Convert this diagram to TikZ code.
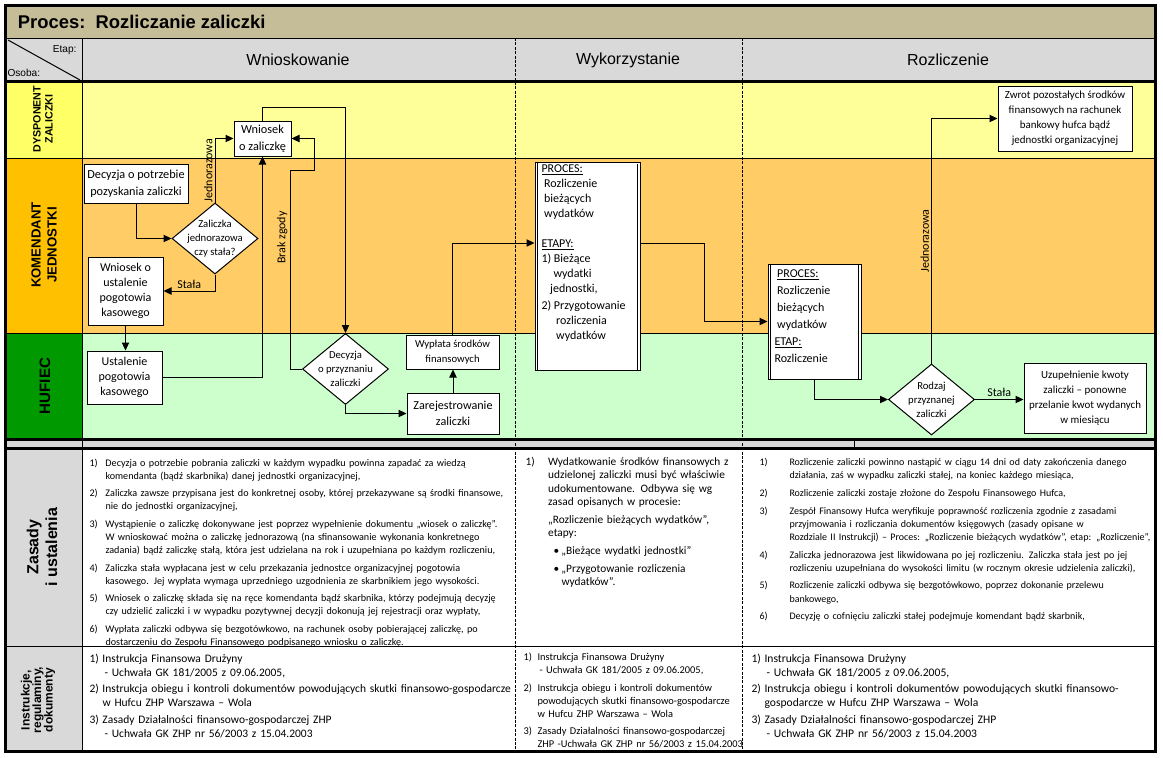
\documentclass[tikz,border=0pt]{standalone}
\usepackage{fontspec}
\setmainfont{Carlito}
\newfontfamily\arialfont{Liberation Sans}
\usetikzlibrary{shapes.geometric,arrows.meta}

\definecolor{titlebg}{RGB}{196,189,151}
\definecolor{headbg}{RGB}{217,217,217}
\definecolor{laneyel}{RGB}{255,255,153}
\definecolor{labyel}{RGB}{255,255,102}
\definecolor{laneora}{RGB}{255,204,102}
\definecolor{labora}{RGB}{255,192,0}
\definecolor{lanegrn}{RGB}{204,255,204}
\definecolor{labgrn}{RGB}{0,153,0}

\newcommand{\fsz}[2]{\fontsize{#1}{#2}\selectfont}
\newcommand{\pkt}[3][9pt]{\par\hangindent=#1\hangafter=1\noindent\makebox[#1][l]{#2}#3\par}

\tikzset{every picture/.style={line width=0.75pt}}
\tikzset{
  flowbox/.style={draw, fill=white, align=center, inner sep=1pt},
  decision/.style={diamond, draw, fill=white, align=center, inner sep=-4pt, aspect=1.2,
    minimum width=64.5pt, minimum height=53.25pt, font=\fsz{8}{10.5}},
  flow/.style={-{Triangle[length=6pt,width=5.5pt]}},
  lbl/.style={font=\fsz{9}{10}, inner sep=1.5pt},
  lanelabel/.style={rotate=90, align=center, font=\arialfont\bfseries},
  sepline/.style={dash pattern=on 2.2pt off 1.1pt},
  txtblock/.style={anchor=north west, align=left, inner sep=0pt},
}

\begin{document}
\begin{tikzpicture}[x=0.75pt,y=0.75pt,yscale=-1,xscale=1]
\useasboundingbox (0,0) rectangle (1163,757);

%Backgrounds
\fill[titlebg] (5,5) rectangle (1155,38);
\fill[headbg] (5,38) rectangle (1155,81);
\fill[laneyel] (82,81) rectangle (1155,158);
\fill[laneora] (82,158) rectangle (1155,333);
\fill[lanegrn] (82,333) rectangle (1155,439);
\fill[labyel] (5,81) rectangle (82,158);
\fill[labora] (5,158) rectangle (82,333);
\fill[labgrn] (5,333) rectangle (82,439);
\fill[headbg] (5,439) rectangle (1155,448);
\fill[headbg] (5,448) rectangle (82,751);

%Grid lines
\draw (5,38) -- (1155,38);
\draw (82,38) -- (82,751);
\draw (5,158) -- (1155,158);
\draw (5,333) -- (1155,333);
\draw (5,646) -- (1155,646);
\draw (854,439) -- (854,448);
\draw (8,40) -- (80,80);
\draw [sepline] (515,38) -- (515,751);
\draw [sepline] (742,38) -- (742,751);
\draw [line width=2.25pt] (5,81) -- (1155,81);
\draw [line width=2.25pt] (5,439) -- (1155,439);
\draw [line width=2.25pt] (5,448) -- (1155,448);
\draw [line width=2.25pt] (5,5) rectangle (1155,751);

% Text Node
\node [anchor=west, font=\arialfont\bfseries\fsz{13.8}{16}] (title) at (13,22) {Proces:\ \ Rozliczanie zaliczki};
\node [font=\arialfont\fsz{12}{14}] (etap1) at (298,60) {Wnioskowanie};
\node [font=\arialfont\fsz{12}{14}] (etap2) at (628,60) {Wykorzystanie};
\node [font=\arialfont\fsz{12}{14}] (etap3) at (948,60) {Rozliczenie};
\node [anchor=east, font=\arialfont\fsz{7.6}{9}, inner sep=0pt] (etaplbl) at (77,50) {Etap:};
\node [anchor=west, font=\arialfont\fsz{7.6}{9}, inner sep=0pt] (osobalbl) at (7,73) {Osoba:};

% Lane labels
\node [lanelabel, font=\arialfont\bfseries\fsz{8}{9}] (ldysp) at (43,119) {DYSPONENT\\ZALICZKI};
\node [lanelabel, font=\arialfont\bfseries\fsz{9.9}{12}] (lkom) at (44,245) {KOMENDANT\\JEDNOSTKI};
\node [lanelabel, font=\arialfont\bfseries\fsz{11.3}{13}] (lhuf) at (45,386) {HUFIEC};
\node [lanelabel, font=\arialfont\bfseries\fsz{12}{14}] (lzas) at (42,547) {Zasady\\i ustalenia};
\node [lanelabel, font=\arialfont\bfseries\fsz{9}{8.6}] (linst) at (38,700) {Instrukcje,\\regulaminy,\\dokumenty};

%Flowchart: Wnioskowanie
\node [flowbox, minimum width=42.75pt, minimum height=26.25pt, font=\fsz{9.2}{13}] (wz) at (262.5,138.5) {Wniosek\\o zaliczkę};
\node [flowbox, minimum width=78pt, minimum height=29.25pt, font=\fsz{9.2}{12.75}] (dec) at (136,183.5) {Decyzja o potrzebie\\pozyskania zaliczki};
\node [decision] (qrodz) at (215,238.5) {Zaliczka\\jednorazowa\\czy stała?};
\node [flowbox, minimum width=56.25pt, minimum height=51pt, font=\fsz{9}{11.25}] (wpog) at (125.5,291) {Wniosek o\\ustalenie\\pogotowia\\kasowego};
\node [flowbox, minimum width=56.25pt, minimum height=39.75pt, font=\fsz{9}{11.25}] (upog) at (124.5,377.5) {Ustalenie\\pogotowia\\kasowego};
\node [decision] (qprz) at (345.5,369) {Decyzja\\o przyznaniu\\zaliczki};
\node [flowbox, minimum width=69.75pt, minimum height=25.5pt, font=\fsz{8}{11}] (wypl) at (452.5,352) {Wypłata środków\\finansowych};
\node [flowbox, minimum width=69pt, minimum height=30.75pt, font=\fsz{9.1}{12.5}] (zarej) at (453,413.5) {Zarejestrowanie\\zaliczki};

%Flowchart: Wykorzystanie
\node [draw, fill=white, minimum width=78.75pt, minimum height=156pt, inner sep=0pt] (proc1) at (587.5,266) {};
\draw ([xshift=2.4pt]proc1.north west) -- ([xshift=2.4pt]proc1.south west);
\draw ([xshift=-2.4pt,yshift=2pt]proc1.north east) -- ([xshift=-2.4pt]proc1.south east);
\node [txtblock, font=\fsz{9}{11.25}] (proc1txt) at (541,164) {\underline{PROCES:}\\
  \hspace*{2pt}Rozliczenie\\ \hspace*{2pt}bieżących\\ \hspace*{2pt}wydatków\\[11.25pt]
  \underline{ETAPY:}\\ 1) Bieżące\\ \hspace*{9pt}wydatki\\ \hspace*{6.5pt}jednostki,\\[2pt]
  2) Przygotowanie\\ \hspace*{11pt}rozliczenia\\ \hspace*{11pt}wydatków};

%Flowchart: Rozliczenie
\node [draw, fill=white, minimum width=69.75pt, minimum height=86.25pt, inner sep=0pt] (proc2) at (814.5,321.5) {};
\draw ([xshift=2.4pt]proc2.north west) -- ([xshift=2.4pt]proc2.south west);
\draw ([xshift=-2.4pt]proc2.north east) -- ([xshift=-2.4pt]proc2.south east);
\node [txtblock, font=\fsz{9}{12.75}] (proc2txt) at (774,269) {\hspace*{2pt}\underline{PROCES:}\\
  \hspace*{2pt}Rozliczenie\\ \hspace*{2pt}bieżących\\ \hspace*{2pt}wydatków\\
  \underline{ETAP:}\\ Rozliczenie};
\node [decision] (qrodz2) at (931.5,399.5) {Rodzaj\\przyznanej\\zaliczki};
\node [flowbox, minimum width=100.5pt, minimum height=48.75pt, font=\fsz{8.2}{11.25}] (zwrot) at (1065,118.5) {Zwrot pozostałych środków\\finansowych na rachunek\\bankowy hufca bądź\\jednostki organizacyjnej};
\node [flowbox, minimum width=91.5pt, minimum height=52.5pt, font=\fsz{8.2}{11.25}] (uzup) at (1085,398) {Uzupełnienie kwoty\\zaliczki -- ponowne\\przelanie kwot wydanych\\w miesiącu};

%Connectors
\coordinate (bz) at (290,170);
\coordinate (m1) at (0,243);
\draw [flow] (dec.south) |- (qrodz.west);
\draw [flow] (qrodz.north) |- node [pos=0.25, rotate=90, anchor=south, lbl] {Jednorazowa} (wz.west);
\draw [flow] (qrodz.south) |- node [pos=0.75, above, lbl] {Stała} (wpog.east);
\draw [flow] (wpog.south) -- (wpog.south |- upog.north);
\draw [flow] (upog.east) -| (wz.south);
\draw [flow] (wz.north) -- ++(0,-13) -| (qprz.north);
\draw [flow] (qprz.west) -| node [pos=0.83, rotate=90, anchor=south, lbl] {Brak zgody} (bz) -- ++(24,0) |- (wz.east);
\draw [flow] (qprz.south) |- (zarej.west);
\draw [flow] (zarej.north) -- (zarej.north |- wypl.south);
\draw [flow] (wypl.north) |- (proc1.west |- m1);
\draw [flow] (proc1.east |- m1) -- ++(64,0) |- (proc2.west);
\draw [flow] (proc2.south) |- (qrodz2.west);
\draw [flow] (qrodz2.north) |- node [pos=0.25, rotate=90, anchor=south, lbl] {Jednorazowa} (zwrot.west);
\draw [flow] (qrodz2.east) -- node [above, lbl] {Stała} (qrodz2.east -| uzup.west);

%Zasady i ustalenia
\node [txtblock, text width=330pt, font=\fsz{7.6}{9.75}] (zasady1) at (89,448) {\setlength{\parskip}{3.5pt}%
\pkt[12pt]{1)}{Decyzja o potrzebie pobrania zaliczki w każdym wypadku powinna zapadać za wiedzą\newline komendanta (bądź skarbnika) danej jednostki organizacyjnej,}
\pkt[12pt]{2)}{Zaliczka zawsze przypisana jest do konkretnej osoby, której przekazywane są środki finansowe,\newline nie do jednostki organizacyjnej,}
\pkt[12pt]{3)}{Wystąpienie o zaliczkę dokonywane jest poprzez wypełnienie dokumentu „wiosek o zaliczkę”.\newline W wnioskować można o zaliczkę jednorazową (na sfinansowanie wykonania konkretnego\newline zadania) bądź zaliczkę stałą, która jest udzielana na rok i uzupełniana po każdym rozliczeniu,}
\pkt[12pt]{4)}{Zaliczka stała wypłacana jest w celu przekazania jednostce organizacyjnej pogotowia\newline kasowego. Jej wypłata wymaga uprzedniego uzgodnienia ze skarbnikiem jego wysokości.}
\pkt[12pt]{5)}{Wniosek o zaliczkę składa się na ręce komendanta bądź skarbnika, którzy podejmują decyzję\newline czy udzielić zaliczki i w wypadku pozytywnej decyzji dokonują jej rejestracji oraz wypłaty,}
\pkt[12pt]{6)}{Wypłata zaliczki odbywa się bezgotówkowo, na rachunek osoby pobierającej zaliczkę, po\newline dostarczeniu do Zespołu Finansowego podpisanego wniosku o zaliczkę.}};

\node [txtblock, text width=170pt, font=\fsz{8.5}{10}] (zasady2) at (525,447) {\setlength{\parskip}{3.4pt}%
\pkt[17pt]{1)}{Wydatkowanie środków finansowych z\newline udzielonej zaliczki musi być właściwie\newline udokumentowane. Odbywa się wg\newline zasad opisanych w procesie:}
{\leftskip=17pt\noindent „Rozliczenie bieżących wydatków”,\newline etapy:\par}
{\leftskip=21pt\hangindent=6pt\hangafter=1\noindent\makebox[6pt][l]{•}„Bieżące wydatki jednostki”\par}
{\leftskip=21pt\hangindent=6pt\hangafter=1\noindent\makebox[6pt][l]{•}„Przygotowanie rozliczenia\newline wydatków”.\par}};

\node [txtblock, text width=320pt, font=\fsz{7.5}{9.8}] (zasady3) at (759,447.5) {\setlength{\parskip}{3.5pt}%
\pkt[22.5pt]{1)}{Rozliczenie zaliczki powinno nastąpić w ciągu 14 dni od daty zakończenia danego\newline działania, zaś w wypadku zaliczki stałej, na koniec każdego miesiąca,}
\pkt[22.5pt]{2)}{Rozliczenie zaliczki zostaje złożone do Zespołu Finansowego Hufca,}
\pkt[22.5pt]{3)}{Zespół Finansowy Hufca weryfikuje poprawność rozliczenia zgodnie z zasadami\newline przyjmowania i rozliczania dokumentów księgowych (zasady opisane w\newline Rozdziale II Instrukcji) -- Proces: „Rozliczenie bieżących wydatków”, etap: „Rozliczenie”,}
\pkt[22.5pt]{4)}{Zaliczka jednorazowa jest likwidowana po jej rozliczeniu. Zaliczka stała jest po jej\newline rozliczeniu uzupełniana do wysokości limitu (w rocznym okresie udzielenia zaliczki),}
\pkt[22.5pt]{5)}{Rozliczenie zaliczki odbywa się bezgotówkowo, poprzez dokonanie przelewu\newline bankowego,}
\pkt[22.5pt]{6)}{Decyzję o cofnięciu zaliczki stałej podejmuje komendant bądź skarbnik,}};

%Instrukcje, regulaminy, dokumenty
\node [txtblock, text width=330pt, font=\fsz{8.6}{10.5}] (instr1) at (89,645) {\setlength{\parskip}{2pt}%
\pkt[9.75pt]{1)}{Instrukcja Finansowa Drużyny\newline\hspace*{1.5pt}- Uchwała GK 181/2005 z 09.06.2005,}
\pkt[9.75pt]{2)}{Instrukcja obiegu i kontroli dokumentów powodujących skutki finansowo-gospodarcze\newline w Hufcu ZHP Warszawa -- Wola}
\pkt[9.75pt]{3)}{Zasady Działalności finansowo-gospodarczej ZHP\newline\hspace*{1.5pt}- Uchwała GK ZHP nr 56/2003 z 15.04.2003}};

\node [txtblock, text width=170pt, font=\fsz{7.8}{9.75}] (instr2) at (523,642.7) {\setlength{\parskip}{3.4pt}%
\pkt[10.5pt]{1)}{Instrukcja Finansowa Drużyny\newline\hspace*{1.5pt}- Uchwała GK 181/2005 z 09.06.2005,}
\pkt[10.5pt]{2)}{Instrukcja obiegu i kontroli dokumentów\newline powodujących skutki finansowo-gospodarcze\newline w Hufcu ZHP Warszawa -- Wola}
\pkt[10.5pt]{3)}{Zasady Działalności finansowo-gospodarczej\newline ZHP -Uchwała GK ZHP nr 56/2003 z 15.04.2003}};

\node [txtblock, text width=320pt, font=\fsz{8.7}{10.5}] (instr3) at (751,645) {\setlength{\parskip}{2pt}%
\pkt[9.75pt]{1)}{Instrukcja Finansowa Drużyny\newline\hspace*{1.5pt}- Uchwała GK 181/2005 z 09.06.2005,}
\pkt[9.75pt]{2)}{Instrukcja obiegu i kontroli dokumentów powodujących skutki finansowo-\newline gospodarcze w Hufcu ZHP Warszawa -- Wola}
\pkt[9.75pt]{3)}{Zasady Działalności finansowo-gospodarczej ZHP\newline\hspace*{1.5pt}- Uchwała GK ZHP nr 56/2003 z 15.04.2003}};

\end{tikzpicture}
\end{document}
